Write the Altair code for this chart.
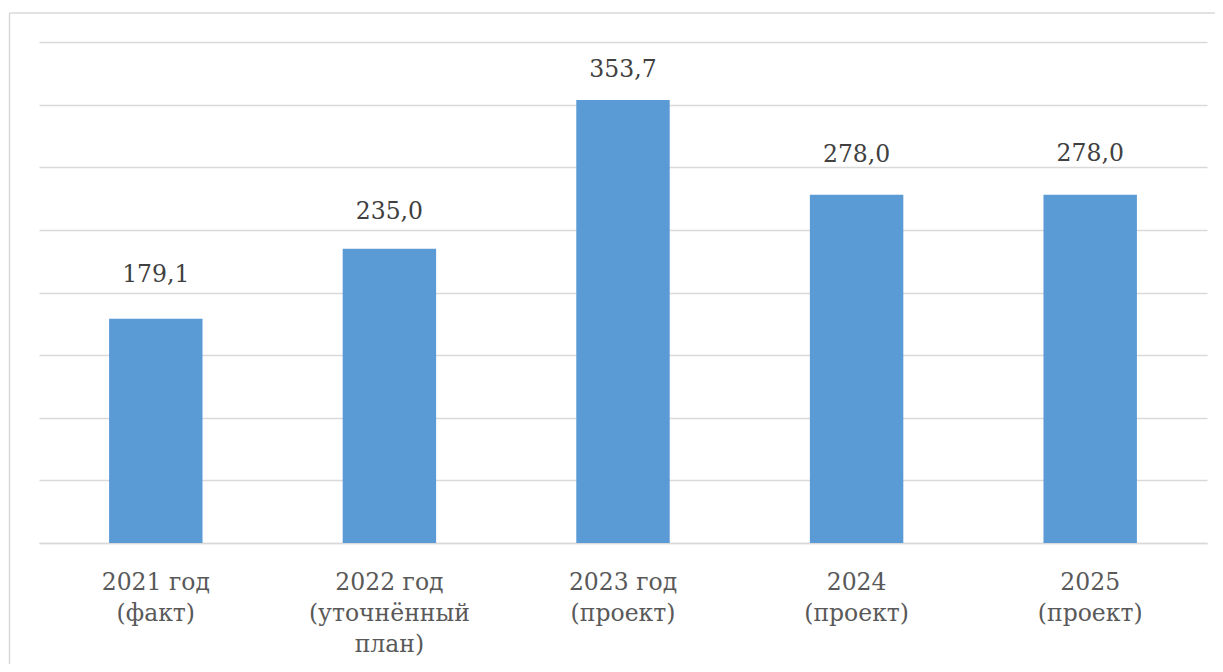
import altair as alt
import pandas as pd

categories = ["2021 год\n(факт)", "2022 год\n(уточнённый\nплан)", "2023 год\n(проект)", "2024\n(проект)", "2025\n(проект)"]
values = [179.1, 235.0, 353.7, 278.0, 278.0]
value_labels = ["179,1", "235,0", "353,7", "278,0", "278,0"]
# baseline position of each value label, in axis units
label_pos = [208.5, 258.5, 372.0, 304.5, 305.0]

df = pd.DataFrame({"cat": categories, "val": values, "lab": value_labels, "pos": label_pos})

W, H = 1168, 501
FONT = "DejaVu Serif"

x = alt.X("cat:N", sort=None, title=None,
          scale=alt.Scale(paddingInner=0.6, paddingOuter=0.3),
          axis=alt.Axis(labelAngle=0, labelExpr="split(datum.label, '\\n')",
                        labelFont=FONT, labelFontSize=23.5, labelColor="#595959",
                        labelLineHeight=31, labelBaseline="alphabetic",
                        labelPadding=46, ticks=False, tickSize=0,
                        domainColor="#D9D9D9", domainWidth=1.5, grid=False))
yscale = alt.Scale(domain=[0, 400], nice=False)
yaxis = alt.Axis(values=[0, 50, 100, 150, 200, 250, 300, 350, 400],
                 labels=False, ticks=False, domain=False,
                 gridColor="#D9D9D9", gridWidth=1.5)
y = alt.Y("val:Q", title=None, scale=yscale, axis=yaxis)

base = alt.Chart(df)
bars = base.mark_bar(color="#5B9BD5").encode(x=x, y=y)
text = base.mark_text(font=FONT, fontSize=23.5, color="#404040",
                      baseline="alphabetic").encode(
    x=x, y=alt.Y("pos:Q", title=None, scale=yscale, axis=yaxis), text="lab:N")

frame_left = alt.Chart(pd.DataFrame({"a": [0]})).mark_rule(color="#D9D9D9", strokeWidth=1.5).encode(
    x=alt.value(-29.5), y=alt.value(-29), y2=alt.value(640))
frame_top = alt.Chart(pd.DataFrame({"a": [0]})).mark_rule(color="#D9D9D9", strokeWidth=1.5).encode(
    x=alt.value(-29.5), x2=alt.value(W + 20), y=alt.value(-29))

chart = alt.layer(frame_left, frame_top, bars, text).properties(
    width=W, height=H,
    background="white",
    autosize=alt.AutoSizeParams(type="none"),
    padding={"left": 31, "top": 34, "right": 8, "bottom": 121},
).configure_view(strokeWidth=0, stroke="transparent")

chart.save("out.html", embed_options={"renderer": "svg", "actions": False})
